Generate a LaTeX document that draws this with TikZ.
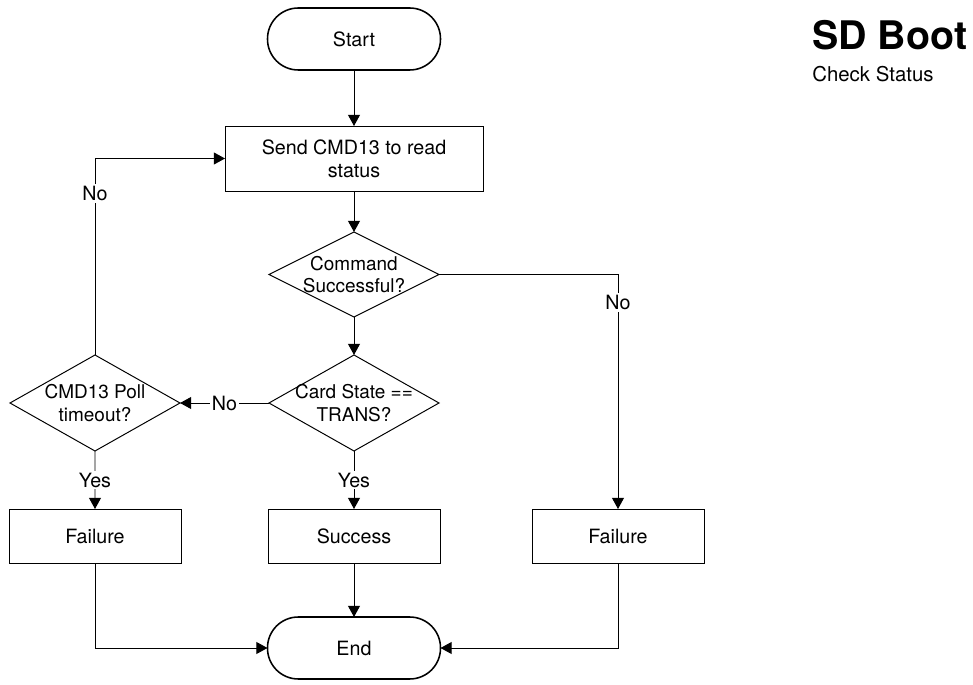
\documentclass[tikz,border=0pt]{standalone}
\usepackage{fontspec}
\setmainfont{TeX Gyre Heros}
\usetikzlibrary{shapes.geometric,arrows.meta,positioning}

\begin{document}
\begin{tikzpicture}[
    font=\fontsize{14}{16.5}\selectfont,
    terminal/.style={rectangle, rounded corners=0.77cm, draw, line width=1.1pt, outer sep=0pt, minimum width=4.325cm, minimum height=1.55cm},
    process/.style={rectangle, draw, line width=0.7pt, outer sep=0pt, minimum width=4.3cm, minimum height=1.35cm, align=center},
    decision/.style={diamond, draw, line width=0.7pt, outer sep=0pt, inner sep=0pt, minimum width=4.25cm, minimum height=2.4cm},
    dtext/.style={align=center, font=\fontsize{13.5}{16}\selectfont},
    arrow/.style={-{Triangle[length=2.8mm,width=3mm]}, line width=0.7pt},
    tag/.style={fill=white, inner sep=1.5pt}
]
\useasboundingbox (0,0) rectangle (24.325,-17.125);

% Title
\node[anchor=base west, inner sep=0pt, font=\fontsize{28}{32}\selectfont\bfseries] (title) at (20.3,-1.25) {SD Boot};
\node[anchor=base west, inner sep=0pt, font=\fontsize{14.5}{17}\selectfont] (subtitle) at (20.3,-2.05) {Check Status};

% Main column
\node[terminal] (start) at (8.85,-0.975) {Start};
\node[process, minimum width=6.45cm, minimum height=1.625cm, below=1.4cm of start] (send) {Send CMD13 to read\\status};
\node[decision, minimum height=2.125cm, below=1.025cm of send, label={[dtext]center:Command\\Successful?}] (cmdok) {};
\node[decision, below=0.95cm of cmdok, label={[dtext]center:Card State ==\\TRANS?}] (trans) {};
\node[process, below=1.45cm of trans] (success) {Success};
\node[terminal, below=1.35cm of success] (end) {End};

% Side branches
\node[decision, left=2.225cm of trans, label={[dtext]center:CMD13 Poll\\timeout?}] (poll) {};
\node[process, left=2.175cm of success] (failL) {Failure};
\node[process, right=2.3cm of success] (failR) {Failure};

% Arrows
\draw[arrow] (start) -- (send);
\draw[arrow] (send) -- (cmdok);
\draw[arrow] (cmdok) -- (trans);
\draw[arrow] (trans) -- node[tag] {No} (poll);
\draw[arrow] (trans) -- node[tag] {Yes} (success);
\draw[arrow] (poll) -- node[tag] {Yes} (failL);
\draw[arrow] (poll.north) |- node[tag, pos=0.41] {No} (send.west);
\draw[arrow] (cmdok.east) -| node[tag, pos=0.56] {No} (failR.north);
\draw[arrow] (success) -- (end);
\foreach \f in {failL,failR} {
    \draw[arrow] (\f) |- (end);
}

\end{tikzpicture}
\end{document}
